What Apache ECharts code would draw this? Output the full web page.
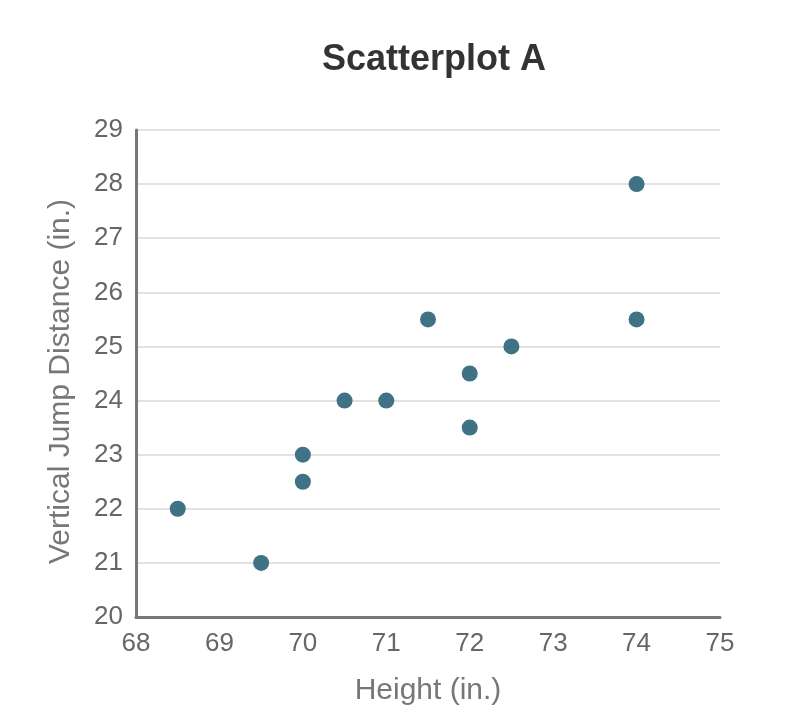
<!DOCTYPE html>
<html><head><meta charset="utf-8">
<script src="https://cdn.jsdelivr.net/npm/echarts@6/dist/echarts.min.js"></script>
<style>html,body{margin:0;padding:0;background:#fff}#c{width:800px;height:723px}</style>
</head><body><div id="c"></div>
<script>
const heights = [68.5, 69.5, 70, 70, 70.5, 71, 71.5, 72, 72, 72.5, 74, 74];
const jumps   = [22, 21, 23, 22.5, 24, 24, 25.5, 24.5, 23.5, 25, 28, 25.5];
const titleText = "Scatterplot A";
const xName = "Height (in.)";
const yName = "Vertical Jump Distance (in.)";
const chart = echarts.init(document.getElementById('c'));
const font = '"Liberation Sans", Arial, sans-serif';
chart.setOption({
  animation: false,
  backgroundColor: '#fff',
  title: { text: titleText, left: 429, textAlign: 'center', top: 37,
    textStyle: { fontFamily: font, fontSize: 36, fontWeight: 'bold', color: '#333' } },
  grid: { left: 136, right: 80, top: 130, bottom: 106 },
  xAxis: { type: 'value', min: 68, max: 75, interval: 1,
    name: xName, nameLocation: 'middle', nameGap: 59,
    nameTextStyle: { fontFamily: font, fontSize: 30, color: '#777' },
    axisLine: { show: true, lineStyle: { color: '#777', width: 3 } },
    axisTick: { show: false }, splitLine: { show: false },
    axisLabel: { fontFamily: font, fontSize: 26, color: '#666', margin: 14 } },
  yAxis: { type: 'value', min: 20, max: 29, interval: 1,
    name: yName, nameLocation: 'middle', nameGap: 60,
    nameTextStyle: { fontFamily: font, fontSize: 30, color: '#777', padding: [0, 16, 0, 0] },
    axisLine: { show: true, lineStyle: { color: '#777', width: 3 } },
    axisTick: { show: false },
    splitLine: { show: true, lineStyle: { color: '#e2e2e2', width: 2 } },
    axisLabel: { fontFamily: font, fontSize: 26, color: '#666', margin: 13 } },
  series: [{ type: 'scatter', symbolSize: 16,
    itemStyle: { color: '#3f7285', opacity: 1 },
    data: heights.map((h, i) => [h, jumps[i]]) }]
});
</script></body></html>
